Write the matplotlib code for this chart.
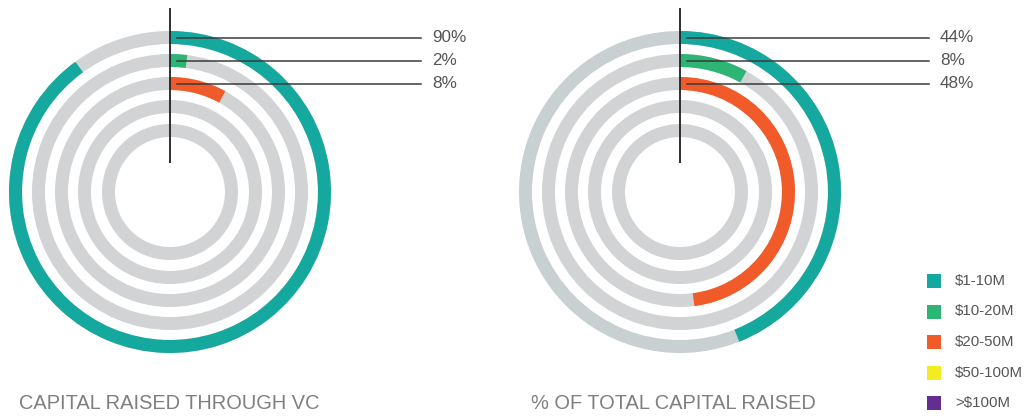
import matplotlib.pyplot as plt
from matplotlib.patches import Wedge

# data
categories = ["$1-10M", "$10-20M", "$20-50M", "$50-100M", ">$100M"]
colors = ["#14a89e", "#2db673", "#f15a29", "#f4ec23", "#662d91"]
vc_share = [90, 2, 8]          # capital raised through VC (%)
total_share = [44, 8, 48]      # % of total capital raised
titles = ["CAPITAL RAISED THROUGH VC", "% OF TOTAL CAPITAL RAISED"]

plt.rcParams["font.family"] = ["Liberation Sans", "DejaVu Sans"]

fig = plt.figure(figsize=(10.25, 4.17), dpi=100)
ax = fig.add_axes([0, 0, 1, 1])
ax.set_xlim(0, 1025)
ax.set_ylim(417, 0)
ax.axis("off")

radii = [161, 138, 115, 92, 68]
ring_w = 13
grey = "#d1d3d4"


def rings(cx, cy, values, outer_grey, line_end, label_x, title, title_x):
    for i, r in enumerate(radii):
        bg = outer_grey if i == 0 else grey
        ax.add_patch(Wedge((cx, cy), r, 0, 360, width=ring_w, color=bg, lw=0))
        if i < len(values):
            # y axis is inverted: -90 is the top, angles grow clockwise
            ax.add_patch(Wedge((cx, cy), r, -90, -90 + 3.6 * values[i],
                               width=ring_w, color=colors[i], lw=0))
    ax.plot([cx, cx], [8, 163], color="#231f20", lw=1.3, solid_capstyle="butt")
    for i, v in enumerate(values):
        y = cy - radii[i] + 6.5
        ax.plot([cx + 7, line_end], [y, y], color="#3a3a3a", lw=1.1)
        ax.text(label_x, y, f"{v}%", fontsize=12.3, color="#555555",
                va="center", ha="left")
    ax.text(title_x, 409, title, fontsize=14.4, color="#7f7f7f",
            ha="left", va="baseline")


rings(170, 192, vc_share, grey, 421, 432, titles[0], 19)
rings(680, 192, total_share, "#c9d0d1", 929, 940, titles[1], 531)

# legend
for i, (lab, c) in enumerate(zip(categories, colors)):
    y = 281 + 30.5 * i
    ax.add_patch(plt.Rectangle((927, y - 7), 14, 14, color=c, lw=0))
    ax.text(955, y, lab, fontsize=10.8, color="#555555", va="center", ha="left")

fig.savefig("out.png", dpi=100)
